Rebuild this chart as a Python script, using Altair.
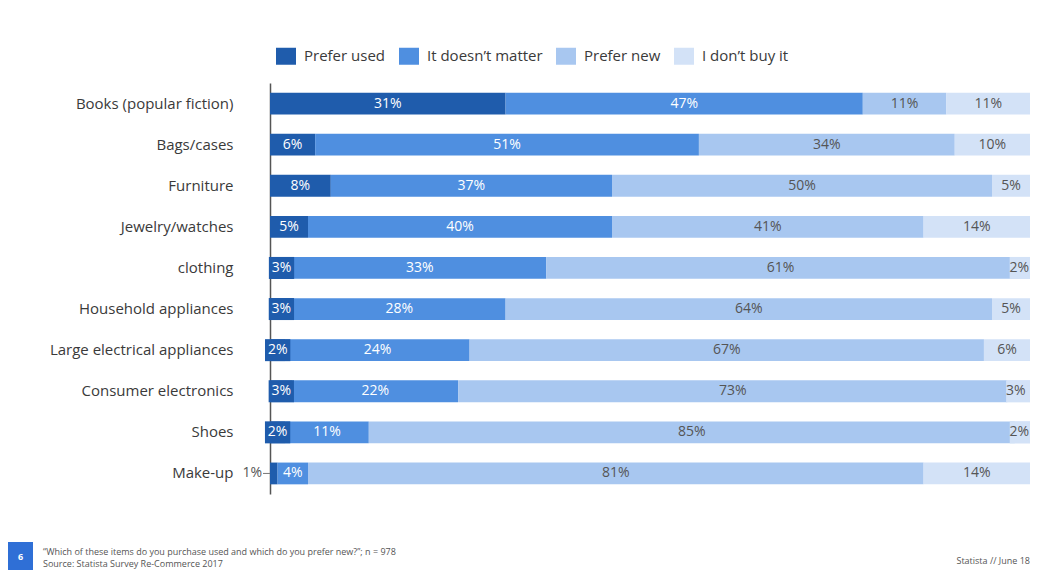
import altair as alt
import pandas as pd

categories = ["Books (popular fiction)", "Bags/cases", "Furniture", "Jewelry/watches", "clothing",
              "Household appliances", "Large electrical appliances", "Consumer electronics", "Shoes", "Make-up"]
series = ["Prefer used", "It doesn\u2019t matter", "Prefer new", "I don\u2019t buy it"]
prefer_used = [31, 6, 8, 5, 3, 3, 2, 3, 2, 1]
doesnt_matter = [47, 51, 37, 40, 33, 28, 24, 22, 11, 4]
prefer_new = [11, 34, 50, 41, 61, 64, 67, 73, 85, 81]
dont_buy = [11, 10, 5, 14, 2, 5, 6, 3, 2, 14]
colors = ["#1f5cac", "#4f8fe0", "#a8c7f0", "#d3e2f7"]

footer1 = "\u201cWhich of these items do you purchase used and which do you prefer new?\u201d; n = 978"
footer2 = "Source: Statista Survey Re-Commerce  2017"
footer_right = "Statista // June 18"
page_no = "6"

rows = []
for si, (s, vals) in enumerate(zip(series, [prefer_used, doesnt_matter, prefer_new, dont_buy])):
    for c, v in zip(categories, vals):
        rows.append({"cat": c, "series": s, "order": si, "value": v})
df = pd.DataFrame(rows)

FONT = "Open Sans"
W, H = 760, 411

base = alt.Chart(df).transform_stack(
    stack="value", groupby=["cat"], offset="normalize",
    sort=[alt.SortField("order", order="ascending")], as_=["x0", "x1"]
).transform_calculate(
    mid="(datum.x0 + datum.x1) / 2",
    label="datum.value + '%'"
)

yaxis = alt.Axis(title=None, ticks=False, domainColor="#555", domainWidth=1.5,
                 labelPadding=37, labelFontSize=15, labelColor="#3a3a3a",
                 labelFont=FONT, labelLimit=300, grid=False)
yscale = alt.Scale(paddingInner=0.47, paddingOuter=0.235)
yenc = alt.Y("cat:N", sort=categories, scale=yscale, axis=yaxis)
xscale = alt.Scale(domain=[0, 1], nice=False, zero=True)
cscale = alt.Scale(domain=series, range=colors)

bars = base.mark_bar().encode(
    y=yenc,
    x=alt.X("x0:Q", scale=xscale, axis=None),
    x2="x1:Q",
    color=alt.Color("series:N", scale=cscale, sort=series,
                    legend=alt.Legend(title=None, orient="none", direction="horizontal",
                                      legendX=6, legendY=-37, padding=0,
                                      symbolType="M-1,-0.85H1V0.85H-1Z", symbolSize=400,
                                      symbolStrokeWidth=0, symbolOpacity=1,
                                      labelFontSize=15, labelColor="#3a3a3a", labelFont=FONT,
                                      labelOffset=8, columnPadding=13)),
    order=alt.Order("order:Q"),
)

boxes = base.transform_filter(
    "(datum.order == 0 && datum.value >= 1.5 && datum.value <= 3) || (datum.order == 3 && datum.value <= 3)"
).mark_point(shape="M-1.15,-1H1.15V1H-1.15Z", size=484, filled=True, opacity=1, strokeWidth=0).encode(
    y=yenc,
    x=alt.X("mid:Q", scale=xscale, axis=None),
    color=alt.Color("series:N", scale=cscale, legend=None),
)

texts = base.transform_filter("datum.value >= 1.5 && !(datum.order == 3 && datum.value <= 3)").mark_text(
    fontSize=14, font=FONT, baseline="middle", align="center"
).encode(
    y=yenc,
    x=alt.X("mid:Q", scale=xscale, axis=None),
    text="label:N",
    color=alt.condition("datum.order < 2", alt.value("white"), alt.value("#555")),
)

edge_texts = base.transform_filter("datum.order == 3 && datum.value <= 3").mark_text(
    fontSize=14, font=FONT, baseline="middle", align="center", dx=-3, color="#555"
).encode(
    y=yenc,
    x=alt.X("mid:Q", scale=xscale, axis=None),
    text="label:N",
)

out_text = base.transform_filter("datum.value < 1.5").mark_text(
    fontSize=14, font=FONT, baseline="middle", align="right", dx=-8, color="#555"
).encode(
    y=yenc,
    x=alt.X("x0:Q", scale=xscale, axis=None),
    text="label:N",
)

leader = base.transform_filter("datum.value < 1.5").mark_rule(color="#777", strokeWidth=1, xOffset=-7).encode(
    y=yenc,
    x=alt.X("x0:Q", scale=xscale, axis=None),
    x2="x0:Q",
)

fdf = pd.DataFrame({"a": [footer1], "b": [footer2], "r": [footer_right], "p": [page_no]})
fbase = alt.Chart(fdf)
box6 = fbase.mark_rect(color="#2f6fd6").encode(
    x=alt.value(-262), x2=alt.value(-237), y=alt.value(459), y2=alt.value(490))
num6 = fbase.mark_text(color="white", fontSize=9, fontWeight="bold", font=FONT, align="center", baseline="middle").encode(
    text="p:N", x=alt.value(-249.5), y=alt.value(474))
f1 = fbase.mark_text(color="#555", fontSize=9, font=FONT, align="left", baseline="middle").encode(
    text="a:N", x=alt.value(-227), y=alt.value(469))
f2 = fbase.mark_text(color="#555", fontSize=9, font=FONT, align="left", baseline="middle").encode(
    text="b:N", x=alt.value(-227), y=alt.value(481))
fr = fbase.mark_text(color="#555", fontSize=9, font=FONT, align="right", baseline="middle").encode(
    text="r:N", x=alt.value(760), y=alt.value(478))

chart = alt.layer(bars, boxes, texts, edge_texts, out_text, leader, box6, num6, f1, f2, fr).properties(
    width=W, height=H,
    autosize=alt.AutoSizeParams(type="none"),
    padding={"left": 262, "top": 75, "right": 0, "bottom": 76},
).configure(font=FONT).configure_view(strokeWidth=0, stroke="transparent")

chart.save("out.html", embed_options={"renderer": "svg", "actions": False})
